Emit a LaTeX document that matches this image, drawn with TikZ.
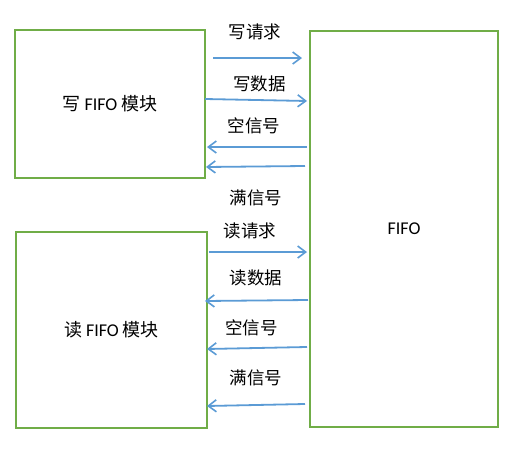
\documentclass[tikz,border=0pt]{standalone}
\usepackage{fontspec}
\setmainfont{Carlito}
\newfontfamily\cjk{Noto Sans CJK SC}
\usetikzlibrary{arrows.meta}
\definecolor{boxgreen}{HTML}{70AD47}
\definecolor{sigblue}{HTML}{5B9BD5}
\begin{document}
\begin{tikzpicture}[x=1pt,y=-1pt,
  blockbox/.style={draw=boxgreen,line width=2pt,rectangle,inner sep=0pt,font=\fontsize{18}{20}\selectfont},
  sig/.style={draw=sigblue,line width=1.8pt,-{Straight Barb[length=8pt,width=12pt,line width=1.6pt]}},
  lbl/.style={inner sep=0pt,font=\fontsize{17.5}{20}\selectfont\cjk}]
\useasboundingbox (0,0) rectangle (531,461);
% boxes
\node[blockbox,minimum width=190pt,minimum height=148pt] (wr) at (110,104) {{\cjk 写} FIFO {\cjk 模块}};
\node[blockbox,minimum width=191pt,minimum height=196pt] (rd) at (111.5,330) {{\cjk 读} FIFO {\cjk 模块}};
\node[blockbox,minimum width=188pt,minimum height=396pt] (fifo) at (404,229) {FIFO};
% connector end points
\coordinate (a1) at (213,58);  \coordinate (b1) at (302,58);
\coordinate (a2) at (205,99);  \coordinate (b2) at (307,101);
\coordinate (a3) at (307,147); \coordinate (b3) at (207,147);
\coordinate (a4) at (305,166); \coordinate (b4) at (206,167);
\coordinate (a5) at (209,252); \coordinate (b5) at (307,252);
\coordinate (a6) at (308,300); \coordinate (b6) at (205,301);
\coordinate (a7) at (307,347); \coordinate (b7) at (207,349);
\coordinate (a8) at (305,404); \coordinate (b8) at (207,406);
\draw[sig] (a1) -- (b1);
\draw[sig] (a2) -- (b2);
\draw[sig] (a3) -- (b3);
\draw[sig] (a4) -- (b4);
\draw[sig] (a5) -- (b5);
\draw[sig] (a6) -- (b6);
\draw[sig] (a7) -- (b7);
\draw[sig] (a8) -- (b8);
% labels
\node[lbl] (l1) at (255,32) {写请求};
\node[lbl] (l2) at (259.5,84) {写数据};
\node[lbl] (l3) at (254,126) {空信号};
\node[lbl] (l4) at (256,198) {满信号};
\node[lbl] (l5) at (250,231) {读请求};
\node[lbl] (l6) at (256,278) {读数据};
\node[lbl] (l7) at (251.5,328) {空信号};
\node[lbl] (l8) at (256,378) {满信号};
\end{tikzpicture}
\end{document}
